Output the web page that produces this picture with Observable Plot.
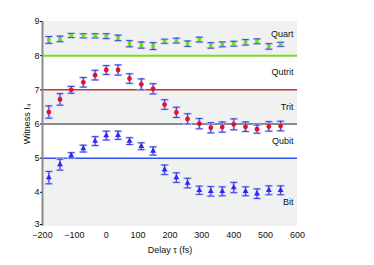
<!DOCTYPE html>
<html><head><meta charset="utf-8">
<script src="https://cdn.jsdelivr.net/npm/d3@7"></script>
<script src="https://cdn.jsdelivr.net/npm/@observablehq/plot@0.6"></script>
<style>
body{margin:0;background:#fff;}
svg{font-family:"Liberation Sans",Arial,sans-serif;}
</style>
</head><body>
<div id="chart"></div>
<script>
const delays = [-180,-145,-110,-72,-35,0,37,73,110,147,183,220,255,292,328,364,400,437,473,510,547];
const quart = [8.46,8.49,8.59,8.58,8.58,8.57,8.52,8.35,8.31,8.28,8.42,8.44,8.35,8.47,8.30,8.33,8.35,8.39,8.42,8.27,8.33];
const quartErr = [0.10,0.08,0.06,0.06,0.06,0.07,0.08,0.09,0.09,0.10,0.06,0.07,0.08,0.07,0.08,0.07,0.07,0.08,0.07,0.08,0.06];
const trit = [6.35,6.72,7.00,7.22,7.43,7.58,7.58,7.33,7.16,7.03,6.57,6.34,6.15,6.01,5.89,5.91,5.99,5.92,5.85,5.93,5.94];
const tritErr = [0.18,0.17,0.10,0.14,0.14,0.13,0.15,0.14,0.16,0.15,0.14,0.15,0.15,0.15,0.15,0.15,0.16,0.14,0.12,0.14,0.14];
const bit = [4.43,4.81,5.08,5.28,5.50,5.66,5.67,5.50,5.35,5.21,4.66,4.43,4.27,4.06,4.03,4.03,4.14,4.03,3.96,4.06,4.06];
const bitErr = [0.18,0.16,0.08,0.10,0.13,0.13,0.12,0.10,0.10,0.12,0.14,0.14,0.14,0.12,0.14,0.13,0.15,0.13,0.14,0.13,0.13];

const bandLow = [8, 6, 3];
const bandHigh = [9, 7, 5];
const boundLevels = [8, 7, 6, 5];
const boundColors = ["#77dd22", "#cc3333", "#8a8a8a", "#3355ee"];
const boundWidths = [2, 1.5, 2, 1.5];
const regionNames = ["Quart", "Qutrit", "Trit", "Qubit", "Bit"];
const regionY = [8.62, 7.51, 6.49, 5.49, 3.71];
const xTicks = [-200,-100,0,100,200,300,400,500,600];
const yTicks = [4,5,6,7,8,9];
const yBottomTick = [3];

const series = [
  {vals: quart, err: quartErr, color: "#66e21a", symbol: "square", r: 2},
  {vals: trit, err: tritErr, color: "#e2102c", symbol: "circle", r: 2.4},
  {vals: bit, err: bitErr, color: "#2a2af0", symbol: "triangle", r: 2.2}
];
const rows = [];
series.forEach((s, si) => delays.forEach((d, i) => rows.push({
  s: si, x: d, y: s.vals[i], lo: s.vals[i] - s.err[i], hi: s.vals[i] + s.err[i]
})));
const bands = bandLow.map((l, i) => ({y1: l, y2: bandHigh[i]}));
const bounds = boundLevels.map((v, i) => ({y: v, c: boundColors[i], w: boundWidths[i]}));
const labels = regionNames.map((n, i) => ({n, y: regionY[i]}));

const cap = {draw(ctx, size) { const r = Math.sqrt(size / Math.PI); ctx.moveTo(-r, 0); ctx.lineTo(r, 0); }};

const marks = [
  Plot.rectY(bands, {x1: -200, x2: 600, y1: "y1", y2: "y2", fill: "#f0f1f1"}),
  Plot.ruleY(bounds, {y: "y", stroke: "c", strokeWidth: "w"}),
  Plot.ruleX([-200], {stroke: "#8a8a8a", strokeWidth: 2}),
  Plot.text(labels, {x: 600, y: "y", text: "n", textAnchor: "end", dx: -4, fontSize: 9, fill: "#111"}),
  Plot.ruleX(rows, {x: "x", y1: "lo", y2: "hi", stroke: "#b9bdf3", strokeWidth: 2.5}),
  Plot.dot(rows, {x: "x", y: "lo", symbol: cap, r: 4.2, stroke: "#b9bdf3", strokeWidth: 2}),
  Plot.dot(rows, {x: "x", y: "hi", symbol: cap, r: 4.2, stroke: "#b9bdf3", strokeWidth: 2}),
  Plot.ruleX(rows, {x: "x", y1: "lo", y2: "hi", stroke: "#4040d8", strokeWidth: 1}),
  Plot.dot(rows, {x: "x", y: "lo", symbol: cap, r: 3, stroke: "#4040d8", strokeWidth: 1}),
  Plot.dot(rows, {x: "x", y: "hi", symbol: cap, r: 3, stroke: "#4040d8", strokeWidth: 1})
];
series.forEach((s, si) => {
  marks.push(Plot.dot(rows.filter(d => d.s === si), {x: "x", y: "y", symbol: s.symbol, r: s.r, fill: s.color, stroke: "none"}));
});
marks.push(
  Plot.axisX({ticks: xTicks, tickFormat: d3.format("d"), tickSize: 0, tickPadding: 5, fontSize: 9, label: "Delay τ (fs)", labelAnchor: "center", labelArrow: "none", labelOffset: 26}),
  Plot.axisY({ticks: yTicks, tickFormat: d3.format("d"), tickSize: 2, tickPadding: 1, fontSize: 9, label: "Witness I₄", labelAnchor: "center", labelArrow: "none", labelOffset: 19}),
  Plot.axisY({ticks: yBottomTick, tickFormat: d3.format("d"), tickSize: 2, tickPadding: 1, fontSize: 9, dy: -2, label: null})
);

const chart = Plot.plot({
  width: 374, height: 265,
  marginLeft: 42, marginRight: 77, marginTop: 21, marginBottom: 39,
  x: {domain: [-200, 600]},
  y: {domain: [3, 9]},
  style: {fontFamily: "Liberation Sans, Arial, sans-serif", fontSize: "9px", color: "#111", background: "#fff"},
  marks
});
document.getElementById("chart").appendChild(chart);
</script>
</body></html>
